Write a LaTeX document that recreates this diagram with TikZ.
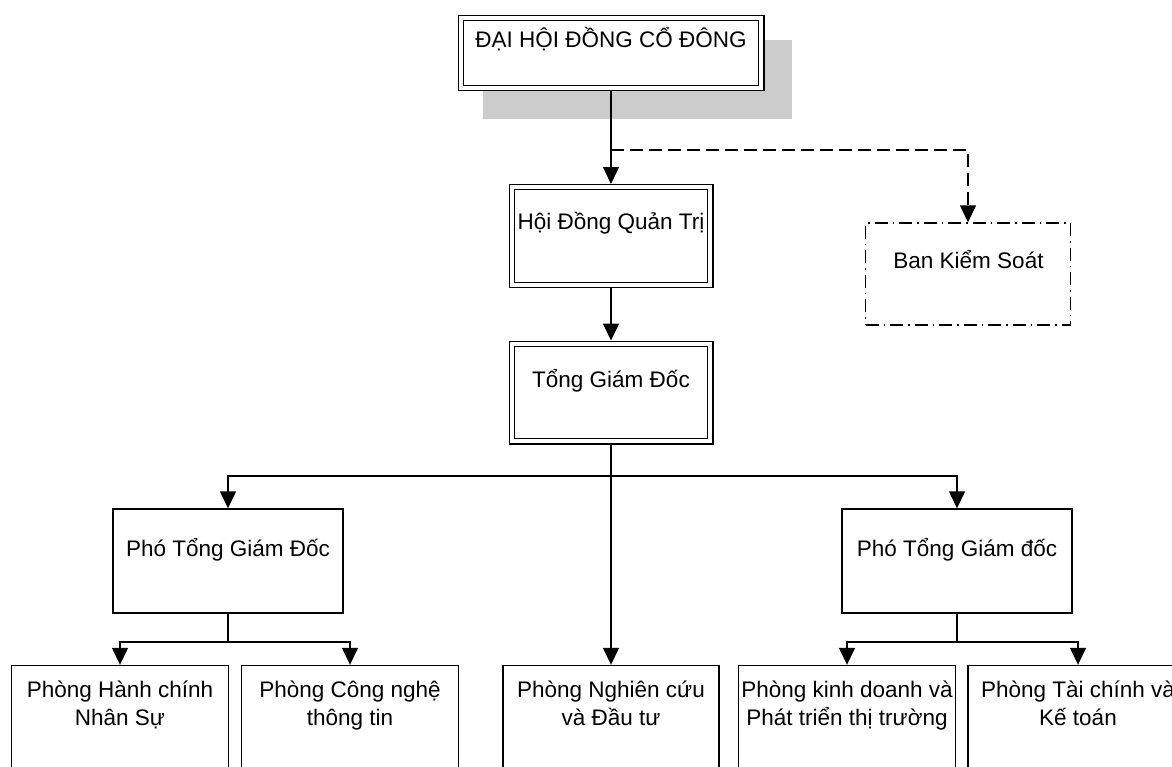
\documentclass[tikz,border=0pt]{standalone}
\usepackage{fontspec}
\setmainfont{Liberation Sans}
\usetikzlibrary{arrows.meta}
\begin{document}
\begin{tikzpicture}[x=1pt,y=-1pt,line width=1.4pt,
  lbl/.style={font=\fontsize{22.5}{28}\selectfont, inner sep=0pt, anchor=base},
  dblbox/.style={draw, line width=1.3pt, double, double distance=3.8pt, fill=white, outer sep=3.2pt, inner sep=0pt},
  plainbox/.style={draw, fill=white, inner sep=0pt},
  arr/.style={-{Triangle[width=16pt,length=17pt]}},
  dsh/.style={dash pattern=on 13pt off 6pt},
  dashdot/.style={dash pattern=on 13pt off 5pt on 1.5pt off 5pt}]
\path[use as bounding box, clip] (0,0) rectangle (1172,766);
\fill[white] (0,0) rectangle (1172,766);
% shadow
\fill[black!20] (483,40) rectangle (792,119);
% boxes
\node[dblbox, minimum width=300.6pt, minimum height=69.6pt] (dhd) at (611,53) {};
\node[dblbox, minimum width=198.6pt, minimum height=97.6pt] (hdqt) at (611,236) {};
\node[dblbox, minimum width=198.6pt, minimum height=97.6pt] (tgd) at (611,392.5) {};
\node[plainbox, dashdot, minimum width=205pt, minimum height=102pt] (bks) at (968,274) {};
\node[plainbox, minimum width=230pt, minimum height=104pt] (pho1) at (228,561) {};
\node[plainbox, minimum width=230pt, minimum height=104pt] (pho2) at (957,561) {};
\node[plainbox, minimum width=217pt, minimum height=130pt] (p1) at (120,730.5) {};
\node[plainbox, minimum width=217pt, minimum height=130pt] (p2) at (350,730.5) {};
\node[plainbox, minimum width=216pt, minimum height=130pt] (p3) at (611,730.5) {};
\node[plainbox, minimum width=217pt, minimum height=130pt] (p4) at (847,730.5) {};
\node[plainbox, minimum width=220pt, minimum height=130pt] (p5) at (1078,730.5) {};
% texts
\node[lbl] (t0) at (611,47) {ĐẠI HỘI ĐỒNG CỔ ĐÔNG};
\node[lbl] (t1) at (611,229) {Hội Đồng Quản Trị};
\node[lbl] (t2) at (611,387) {Tổng Giám Đốc};
\node[lbl] (t3) at (968.5,268) {Ban Kiểm Soát};
\node[lbl] (t4) at (228,556) {Phó Tổng Giám Đốc};
\node[lbl] (t5) at (957,556) {Phó Tổng Giám đốc};
\node[lbl] (t6) at (120,697) {\begin{tabular}[t]{@{}c@{}}Phòng Hành chính\\Nhân Sự\end{tabular}};
\node[lbl] (t7) at (350,697) {\begin{tabular}[t]{@{}c@{}}Phòng Công nghệ\\thông tin\end{tabular}};
\node[lbl] (t8) at (611,697) {\begin{tabular}[t]{@{}c@{}}Phòng Nghiên cứu\\và Đầu tư\end{tabular}};
\node[lbl] (t9) at (847,697) {\begin{tabular}[t]{@{}c@{}}Phòng kinh doanh và\\Phát triển thị trường\end{tabular}};
\node[lbl] (t10) at (1078,697) {\begin{tabular}[t]{@{}c@{}}Phòng Tài chính và\\Kế toán\end{tabular}};
% connectors
\coordinate (split) at (611,150);
\coordinate (j1) at (611,476);
\coordinate (j2) at (228,642);
\coordinate (j3) at (957,642);
\draw[arr] (dhd.south) -- (hdqt.north);
\draw[arr, dsh] (split) -| (bks.north);
\draw[arr] (hdqt.south) -- (tgd.north);
\draw[arr] (tgd.south) -- (j1) -| (pho1.north);
\draw[arr] (j1) -| (pho2.north);
\draw[arr] (tgd.south) -- (p3.north);
\draw (pho1.south) -- (j2);
\draw[arr] (j2) -| (p1.north);
\draw[arr] (j2) -| (p2.north);
\draw (pho2.south) -- (j3);
\draw[arr] (j3) -| (p4.north);
\draw[arr] (j3) -| (p5.north);
\end{tikzpicture}
\end{document}
